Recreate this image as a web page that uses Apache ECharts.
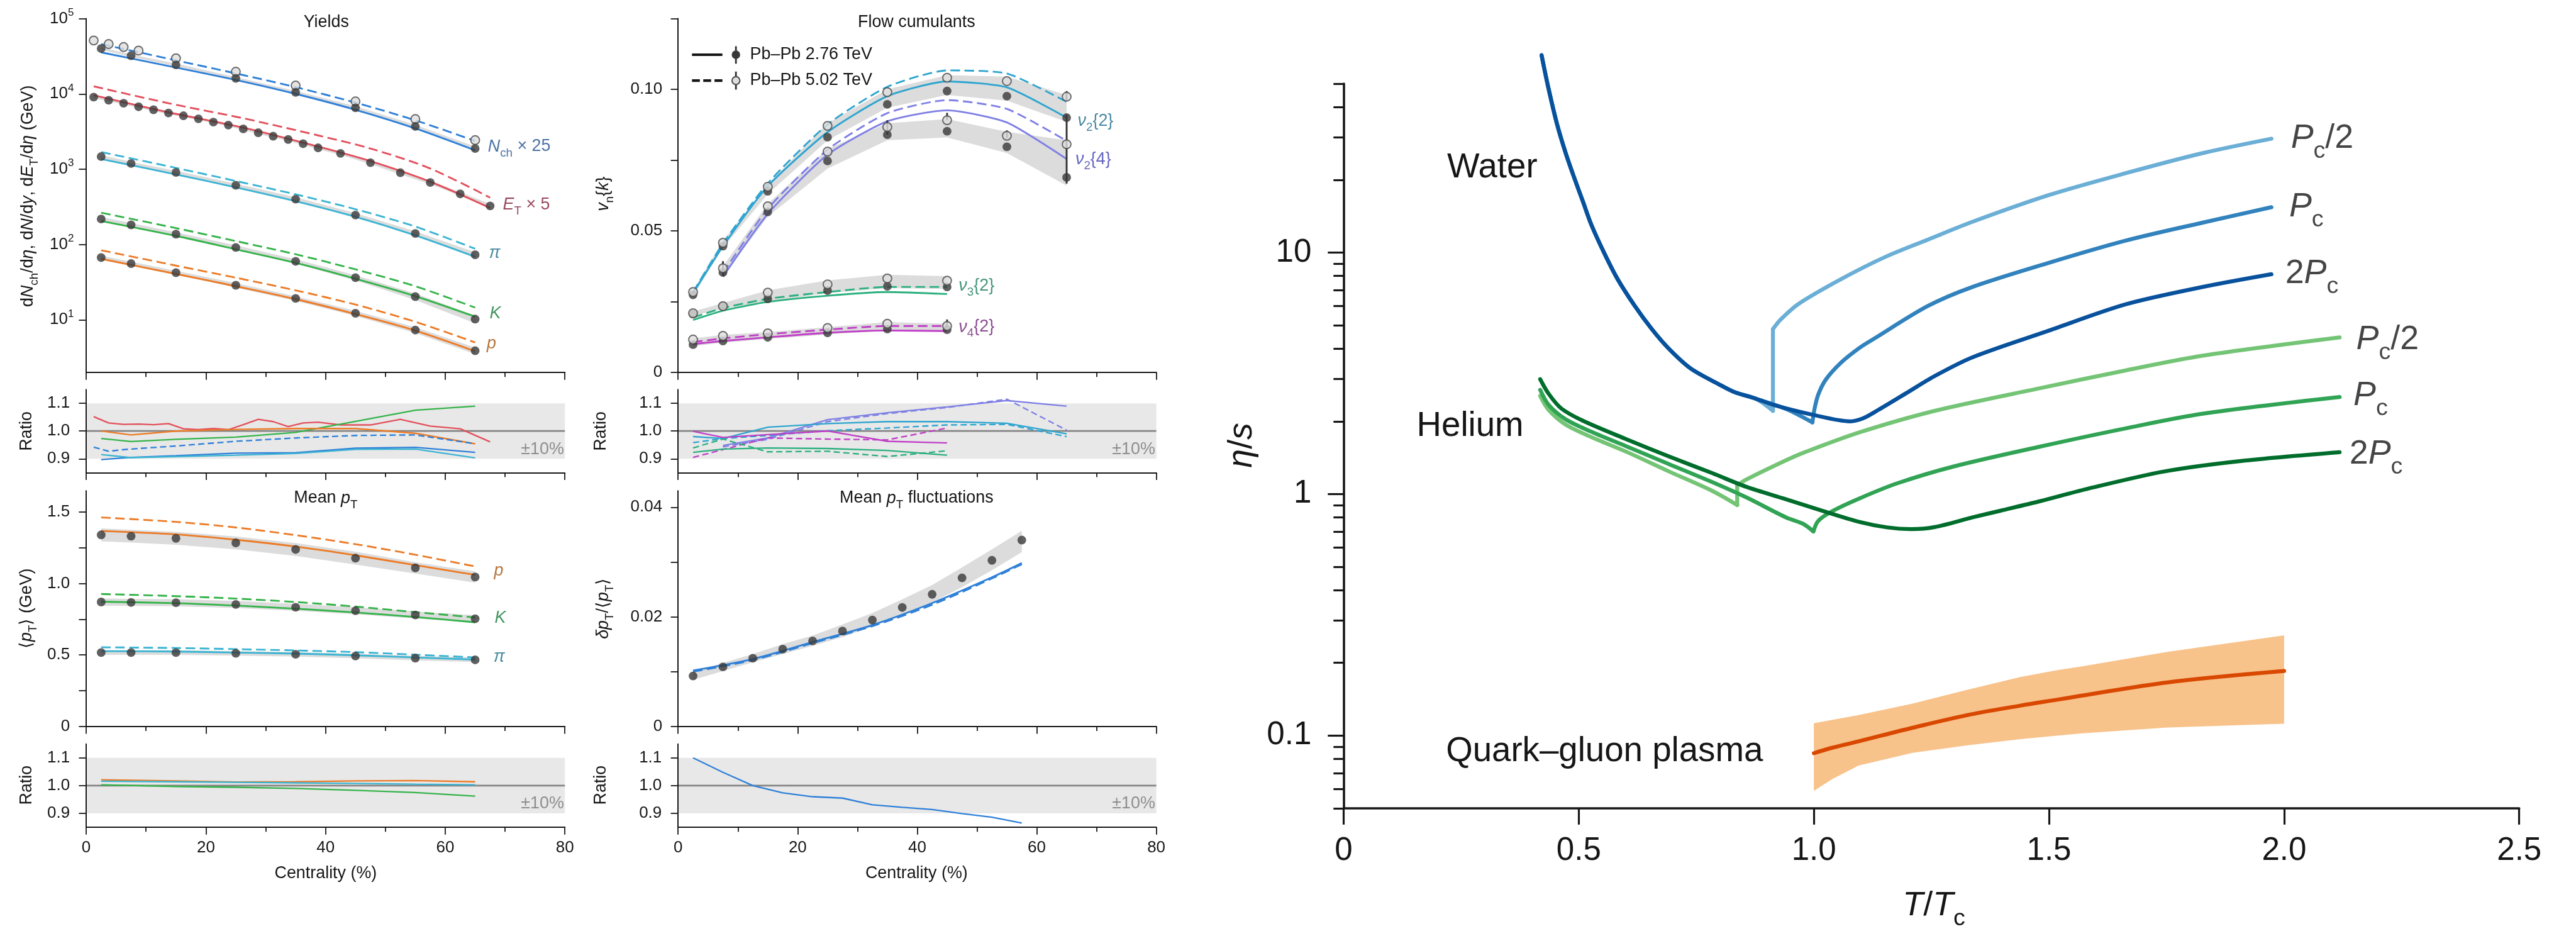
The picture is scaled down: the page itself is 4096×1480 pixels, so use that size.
<!DOCTYPE html>
<html>
<head>
<meta charset="utf-8">
<script src="https://cdn.jsdelivr.net/npm/echarts@6/dist/echarts.min.js"></script>
<style>
html, body { margin: 0; padding: 0; background: #ffffff; }
#chart { width: 4096px; height: 1480px; }
</style>
</head>
<body>
<div id="chart"></div>
<script>
// ---------------- Yields vs centrality ----------------
const centBins  = [2.5, 7.5, 15, 25, 35, 45, 55, 65];
const centModel = [2.5, 15, 25, 35, 45, 55, 65];

const nchData276  = [40000, 32200, 24300, 16100, 10500, 6540, 3700, 1880];
const nchCent502  = [1.25, 3.75, 6.25, 8.75, 15, 25, 35, 45, 55, 65];
const nchData502  = [51200, 45900, 41900, 37600, 29700, 19700, 12900, 7940, 4630, 2430];
const nchModel276 = [35600, 22400, 15300, 10000, 6150, 3480, 1780];
const nchModel502 = [45900, 27900, 18700, 12300, 7650, 4460, 2370];
const nchErr      = [0.04, 0.04, 0.04, 0.04, 0.045, 0.05, 0.05, 0.06];

const etCent = [1.25, 3.75, 6.25, 8.75, 11.25, 13.75, 16.25, 18.75, 21.25, 23.75, 26.25,
                28.75, 31.25, 33.75, 36.25, 38.75, 42.5, 47.5, 52.5, 57.5, 62.5, 67.5];
const etData = [9060, 8240, 7520, 6750, 6150, 5570, 5120, 4670, 4220, 3850, 3430,
                3050, 2740, 2480, 2180, 1920, 1620, 1220, 898, 665, 470, 325];
const etErr  = [0.035, 0.035, 0.035, 0.035, 0.035, 0.035, 0.035, 0.035, 0.035, 0.035, 0.035,
                0.04, 0.04, 0.04, 0.04, 0.04, 0.045, 0.045, 0.05, 0.05, 0.055, 0.06];
const etModelCent = [1.25, 13.75, 26.25, 38.75, 47.5, 57.5, 67.5];
const etModel276  = [9620, 5700, 3570, 2000, 1280, 681, 305];
const etModel502  = [12600, 7520, 4740, 2810, 1880, 1020, 419];

const piData     = [1470, 1190, 905, 611, 400, 246, 140, 73];
const piModel276 = [1360, 851, 574, 376, 233, 132, 68.5];
const piModel502 = [1690, 1040, 697, 463, 294, 173, 87.7];
const piErr      = [0.05, 0.05, 0.05, 0.05, 0.06, 0.06, 0.07, 0.08];

const kData     = [218, 182, 137, 91.2, 59.7, 36.2, 20.3, 10.2];
const kModel276 = [205, 130, 86.3, 57, 35.1, 20.6, 11.0];
const kModel502 = [264, 165, 111, 74.1, 46.7, 27.9, 14.5];
const kErr      = [0.06, 0.06, 0.06, 0.07, 0.07, 0.08, 0.10, 0.12];

const prData     = [67, 55.7, 42.2, 28.7, 19.2, 12.2, 7.3, 3.88];
const prModel276 = [64.4, 40.6, 27.9, 18.8, 11.9, 7.18, 3.82];
const prModel502 = [83.8, 52.4, 36.2, 24.6, 15.9, 9.4, 5.0];
const prErr      = [0.06, 0.06, 0.06, 0.07, 0.07, 0.08, 0.09, 0.10];

// model / data ratios for the yields
const ratioEt     = [1.052, 1.029, 1.024, 1.025, 1.023, 1.027, 1.008, 1.005, 1.009, 1.005, 1.023,
                     1.042, 1.034, 1.016, 1.029, 1.032, 1.022, 1.022, 1.042, 1.018, 1.008, 0.961];
const ratioK      = [0.973, 0.962, 0.970, 0.978, 0.995, 1.035, 1.075, 1.090];
const ratioPr     = [1.000, 0.986, 1.000, 1.006, 1.009, 1.009, 0.992, 0.954];
const ratioNch502 = [0.942, 0.927, 0.933, 0.937, 0.946, 0.963, 0.975, 0.984, 0.986, 0.954];
const ratioNch276 = [0.897, 0.905, 0.911, 0.920, 0.922, 0.938, 0.941, 0.923];
const ratioPi     = [0.915, 0.904, 0.908, 0.913, 0.919, 0.934, 0.935, 0.903];

// ---------------- Mean pT ----------------
const mptPrData     = [1.341, 1.332, 1.317, 1.285, 1.239, 1.178, 1.110, 1.046];
const mptPrModel276 = [1.368, 1.344, 1.307, 1.259, 1.198, 1.129, 1.061];
const mptPrModel502 = [1.463, 1.432, 1.393, 1.339, 1.276, 1.202, 1.120];
const mptPrErr      = [0.045, 0.045, 0.045, 0.045, 0.045, 0.045, 0.04, 0.04];
const mptKData      = [0.871, 0.868, 0.866, 0.854, 0.834, 0.810, 0.780, 0.754];
const mptKModel276  = [0.873, 0.863, 0.846, 0.824, 0.798, 0.766, 0.729];
const mptKModel502  = [0.927, 0.912, 0.895, 0.871, 0.839, 0.800, 0.763];
const mptKErr       = [0.025, 0.025, 0.025, 0.025, 0.025, 0.025, 0.025, 0.025];
const mptPiData     = [0.517, 0.517, 0.517, 0.512, 0.505, 0.493, 0.478, 0.466];
const mptPiModel276 = [0.527, 0.524, 0.517, 0.510, 0.498, 0.483, 0.468];
const mptPiModel502 = [0.554, 0.549, 0.541, 0.532, 0.520, 0.502, 0.483];
const mptPiErr      = [0.016, 0.016, 0.016, 0.016, 0.016, 0.016, 0.016, 0.016];

const mptRatioPr = [1.021, 1.017, 1.013, 1.014, 1.017, 1.018, 1.014];
const mptRatioPi = [1.016, 1.014, 1.012, 1.010, 1.008, 1.005, 1.003];
const mptRatioK  = [1.003, 0.997, 0.994, 0.990, 0.983, 0.975, 0.962];

// ---------------- Flow cumulants ----------------
const flowCent     = [2.5, 7.5, 15, 25, 35, 45, 55, 65];
const v22Data276   = [0.0274, 0.0446, 0.0640, 0.0831, 0.0947, 0.0994, 0.0976, 0.0900];
const v22Data502   = [0.0284, 0.0458, 0.0656, 0.0871, 0.0990, 0.1041, 0.1029, 0.0974];
const v22Model276  = [0.0280, 0.0446, 0.0658, 0.0849, 0.0976, 0.1028, 0.1007, 0.0900];
const v22Model502  = [0.0284, 0.0455, 0.0668, 0.0876, 0.1009, 0.1067, 0.1056, 0.0956];
const v22BandLow   = [0.0270, 0.0440, 0.0630, 0.0820, 0.0935, 0.0980, 0.0960, 0.0885];
const v22BandHigh  = [0.0290, 0.0465, 0.0665, 0.0880, 0.1000, 0.1050, 0.1045, 0.0980];

const v24Cent      = [7.5, 15, 25, 35, 45, 55, 65];
const v24Data276   = [0.0353, 0.0567, 0.0747, 0.0840, 0.0852, 0.0797, 0.0689];
const v24Data502   = [0.0368, 0.0587, 0.0780, 0.0867, 0.0891, 0.0836, 0.0806];
const v24Model276  = [0.0338, 0.0560, 0.0769, 0.0887, 0.0926, 0.0883, 0.0754];
const v24Model502  = [0.0351, 0.0578, 0.0787, 0.0916, 0.0962, 0.0931, 0.0818];
const v24BandLow   = [0.0340, 0.0550, 0.0720, 0.0820, 0.0830, 0.0775, 0.0660];
const v24BandHigh  = [0.0375, 0.0595, 0.0790, 0.0880, 0.0895, 0.0850, 0.0820];

const vnCent       = [2.5, 7.5, 15, 25, 35, 45];
const v32Data276   = [0.0206, 0.0233, 0.0260, 0.0289, 0.0304, 0.0302];
const v32Data502   = [0.0209, 0.0234, 0.0282, 0.0311, 0.0332, 0.0324];
const v32Model276  = [0.0185, 0.0218, 0.0249, 0.0271, 0.0284, 0.0277];
const v32Model502  = [0.0194, 0.0227, 0.0260, 0.0284, 0.0302, 0.0302];
const v32BandLow   = [0.0200, 0.0225, 0.0250, 0.0280, 0.0298, 0.0295];
const v32BandHigh  = [0.0215, 0.0245, 0.0290, 0.0325, 0.0345, 0.0340];
const v42Data276   = [0.0098, 0.0111, 0.0124, 0.0140, 0.0153, 0.0151];
const v42Data502   = [0.0116, 0.0129, 0.0138, 0.0157, 0.0172, 0.0164];
const v42Model276  = [0.0100, 0.0111, 0.0124, 0.0140, 0.0148, 0.0146];
const v42Model502  = [0.0107, 0.0120, 0.0135, 0.0151, 0.0164, 0.0164];
const v42BandLow   = [0.0093, 0.0105, 0.0118, 0.0134, 0.0147, 0.0145];
const v42BandHigh  = [0.0120, 0.0133, 0.0142, 0.0160, 0.0178, 0.0172];

const flowErrCent = [7.5, 35, 45, 55, 65, 65, 45];
const flowErrLow  = [0.0342, 0.0840, 0.0891, 0.0828, 0.0667, 0.0960, 0.0160];
const flowErrHigh = [0.0393, 0.0891, 0.0917, 0.0855, 0.0911, 0.0994, 0.0187];

const rV24m276 = [0.948, 0.975, 1.041, 1.066, 1.087, 1.110, 1.090];
const rV24m502 = [0.943, 0.970, 1.034, 1.063, 1.085, 1.115, 1.003];
const rV22m276 = [0.980, 0.973, 1.014, 1.027, 1.034, 1.034, 1.028, 0.990];
const rV22m502 = [0.958, 0.973, 0.984, 1.001, 1.011, 1.022, 1.024, 0.980];
const rV42m276 = [0.999, 0.977, 0.987, 1.000, 0.963, 0.957];
const rV42m502 = [0.905, 0.933, 0.975, 0.971, 0.968, 1.011];
const rV32m276 = [0.923, 0.935, 0.939, 0.937, 0.930, 0.913];
const rV32m502 = [0.939, 0.971, 0.925, 0.927, 0.908, 0.929];

// ---------------- Mean pT fluctuations ----------------
const flucCent      = [2.5, 7.5, 12.5, 17.5, 22.5, 27.5, 32.5, 37.5, 42.5, 47.5, 52.5, 57.5];
const flucData      = [0.0092, 0.01086, 0.01244, 0.0141, 0.0156, 0.0174, 0.0194, 0.0217, 0.0241, 0.0271, 0.0303, 0.0340];
const flucBandLow   = [0.0085, 0.0101, 0.0117, 0.0132, 0.0147, 0.0163, 0.0182, 0.0203, 0.0226, 0.0254, 0.0285, 0.0318];
const flucBandHigh  = [0.0099, 0.0116, 0.0132, 0.0150, 0.0166, 0.0186, 0.0207, 0.0232, 0.0258, 0.0290, 0.0323, 0.0357];
const flucModelCent = [2.5, 12.5, 22.5, 32.5, 42.5, 52.5, 57.5];
const flucModel276  = [0.0102, 0.0123, 0.0154, 0.0185, 0.0225, 0.0272, 0.0298];
const flucModel502  = [0.0100, 0.0121, 0.0152, 0.0183, 0.0222, 0.0270, 0.0296];
const flucRatio     = [1.10, 1.048, 1.0, 0.974, 0.96, 0.955, 0.931, 0.922, 0.914, 0.899, 0.886, 0.865];

// ---------------- eta/s versus T/Tc ----------------
const waterBranchT = [0.421, 0.4354, 0.4537, 0.472, 0.4904, 0.5087, 0.527, 0.5546, 0.582, 0.6187,
                      0.6554, 0.692, 0.738, 0.7975, 0.8296, 0.877];
const waterBranchV = [65.6, 48.1, 34.1, 25.9, 20.4, 16.3, 13.0, 9.91, 7.80, 6.03,
                      4.82, 3.99, 3.31, 2.85, 2.65, 2.48];
const waterHalfT = [0.913, 0.913, 0.929, 0.967, 1.059, 1.151, 1.242, 1.337, 1.5, 1.663, 1.827, 1.973];
const waterHalfV = [2.21, 4.82, 5.27, 6.12, 7.78, 9.57, 11.3, 13.4, 17.3, 21.3, 25.8, 29.6];
const waterCritT = [0.941, 0.997, 1.001, 1.009, 1.025, 1.057, 1.097, 1.129, 1.242, 1.337, 1.5, 1.663, 1.827, 1.973];
const waterCritV = [2.25, 1.98, 2.23, 2.57, 2.97, 3.49, 4.03, 4.41, 6.0, 7.2, 9.07, 11.2, 13.3, 15.4];
const waterDblT  = [0.917, 0.997, 1.077, 1.105, 1.137, 1.197, 1.257, 1.337, 1.5, 1.663, 1.827, 1.973];
const waterDblV  = [2.33, 2.13, 2.0, 2.06, 2.23, 2.62, 3.08, 3.68, 4.75, 6.1, 7.2, 8.13];

const heHalfT = [0.418, 0.436, 0.472, 0.527, 0.600, 0.692, 0.784, 0.837, 0.837, 0.857, 0.941, 0.977,
                 1.097, 1.257, 1.48, 1.663, 1.827, 2.118];
const heHalfV = [2.55, 2.23, 1.94, 1.72, 1.50, 1.24, 1.03, 0.90, 1.087, 1.15, 1.38, 1.48,
                 1.80, 2.21, 2.74, 3.25, 3.74, 4.45];
const heCritT = [0.418, 0.436, 0.472, 0.527, 0.600, 0.692, 0.784, 0.857, 0.941, 0.977, 0.999, 1.009,
                 1.037, 1.097, 1.177, 1.297, 1.48, 1.663, 1.827, 2.118];
const heCritV = [2.70, 2.34, 2.04, 1.81, 1.58, 1.33, 1.12, 0.967, 0.80, 0.753, 0.70, 0.773,
                 0.845, 0.959, 1.107, 1.30, 1.57, 1.87, 2.15, 2.52];
const heDblT  = [0.418, 0.436, 0.463, 0.509, 0.600, 0.692, 0.784, 0.857, 0.941, 1.017, 1.097, 1.157,
                 1.207, 1.257, 1.337, 1.397, 1.48, 1.581, 1.745, 1.908, 2.118];
const heDblV  = [2.99, 2.60, 2.26, 2.01, 1.69, 1.43, 1.22, 1.07, 0.951, 0.853, 0.766, 0.727,
                 0.716, 0.730, 0.80, 0.853, 0.933, 1.05, 1.24, 1.37, 1.49];

const qgpT     = [1.0, 1.038, 1.095, 1.21, 1.325, 1.439, 1.52, 1.567, 1.752, 2.0];
const qgpUpper = [0.1124, 0.116, 0.1216, 0.1356, 0.1545, 0.1746, 0.187, 0.193, 0.222, 0.26];
const qgpLower = [0.059, 0.0658, 0.0751, 0.0848, 0.091, 0.0966, 0.100, 0.102, 0.108, 0.112];
const qgpMid   = [0.0845, 0.0889, 0.0946, 0.1077, 0.1214, 0.133, 0.141, 0.146, 0.166, 0.185];

// tick values
const yieldTicks = [10, 100, 1000, 10000, 100000];
const ratioTicks = [0.9, 1.0, 1.1];
const ratioBand  = [0.9, 1.1];
const flowTicks  = [0, 0.025, 0.05, 0.075, 0.1, 0.125];
const flowLabels = [0, 0.05, 0.1];
const mptTicks   = [0, 0.25, 0.5, 0.75, 1.0, 1.25, 1.5];
const mptLabels  = [0, 0.5, 1.0, 1.5];
const flucTicks  = [0, 0.01, 0.02, 0.03, 0.04];
const flucLabels = [0, 0.02, 0.04];
const etaMajor   = [0.1, 1, 10];
const etaMinor   = [0.05, 0.06, 0.07, 0.08, 0.09, 0.2, 0.3, 0.4, 0.5, 0.6, 0.7, 0.8, 0.9,
                    2, 3, 4, 5, 6, 7, 8, 9, 20, 30, 40, 50];

// ---------------- drawing ----------------
const S = 0.896;                 // overall scale of the figure
const R = v => v * S;
const FONT = "'Liberation Sans', Arial, Helvetica, sans-serif";
const INK = '#161616';
const zip = (xs, ys) => xs.map((x, i) => [x, ys[i]]);
const scaleBy = (ys, es, sign) => ys.map((y, i) => y * (1 + sign * es[i]));
const shiftBy = (ys, es, sign) => ys.map((y, i) => y + sign * es[i]);

const COL = {
  nch: '#2f80d8', et: '#e2505c', pi: '#3cb4d3', k: '#35b34a', pr: '#ec7b27',
  v22: '#2ea5d0', v24: '#7f80e4', v32: '#2cb07f', v42: '#c03fc7',
  wHalf: '#6baed6', wCrit: '#3182bd', wDbl: '#08519c',
  hHalf: '#74c476', hCrit: '#31a354', hDbl: '#006d2c',
  qgpFill: '#f8c28b', qgpLine: '#d94801', band: '#dcdcdc'
};

// grid boxes (figure pixels before scaling)
const BOX = [
  {left: 153,    top: 33,    width: 849.5,  height: 627.7},   // 0 yields
  {left: 153,    top: 691,   width: 849.5,  height: 147.5},   // 1 yields ratio
  {left: 153,    top: 870.7, width: 849.5,  height: 418.1},   // 2 mean pT
  {left: 153,    top: 1320,  width: 849.5,  height: 147.7},   // 3 mean pT ratio
  {left: 1203.4, top: 33,    width: 848.6,  height: 627.7},   // 4 flow
  {left: 1203.4, top: 691,   width: 848.6,  height: 147.5},   // 5 flow ratio
  {left: 1203.4, top: 870.7, width: 848.6,  height: 418.1},   // 6 fluctuations
  {left: 1203.4, top: 1320,  width: 848.6,  height: 147.7},   // 7 fluctuation ratio
  {left: 2384.4, top: 148.5, width: 2086.3, height: 1285.5}   // 8 eta/s
];

function richFor(F, color) {
  return {
    i: {fontSize: F, fontStyle: 'italic', lineHeight: 1.47 * F, color: color, fontFamily: FONT},
    s: {fontSize: 0.7 * F, lineHeight: 0.7 * F, verticalAlign: 'bottom', color: color, fontFamily: FONT}
  };
}

function centralityAxis(gi, labels) {
  return {
    type: 'value', gridIndex: gi, min: 0, max: 80, interval: 20, z: 10,
    axisLine: {show: true, onZero: false, lineStyle: {color: INK, width: R(2.2)}},
    axisTick: {show: true, length: R(13), lineStyle: {color: INK, width: R(2)}},
    minorTick: {show: true, splitNumber: 2, length: R(8), lineStyle: {color: INK, width: R(2)}},
    axisLabel: {show: labels, fontSize: R(29), color: INK, fontFamily: FONT, margin: R(22)},
    splitLine: {show: false}, minorSplitLine: {show: false}
  };
}

function valueAxis(gi, c) {
  return {
    type: c.log ? 'log' : 'value', logBase: 10, gridIndex: gi, min: c.min, max: c.max, z: 10,
    axisLine: {show: true, onZero: false, lineStyle: {color: INK, width: R(2.2)}},
    axisTick: {show: true, customValues: c.ticks, length: R(13), lineStyle: {color: INK, width: R(2)}},
    axisLabel: {show: true, customValues: c.labels, formatter: c.fmt, margin: R(c.margin),
                fontSize: R(29), color: INK, fontFamily: FONT, rich: c.rich},
    splitLine: {show: false}, minorTick: {show: false}
  };
}

function modelLine(gi, xs, ys, color, dashed, width, smooth, round) {
  return {
    type: 'line', xAxisIndex: gi, yAxisIndex: gi, data: zip(xs, ys), symbol: 'none',
    silent: true, z: 3, smooth: smooth === undefined ? 0.3 : smooth, clip: false,
    lineStyle: {color: color, width: width || R(3.2), type: dashed ? [R(17), R(8)] : 'solid',
                cap: round ? 'round' : 'butt', join: 'round'}
  };
}

// a curve with sharp corners: smooth between corners, straight where only two points remain
const W_R = R(7);
function cornered(gi, xs, ys, corners, color) {
  const cuts = [0].concat(corners, [xs.length - 1]);
  const out = [];
  for (let k = 0; k < cuts.length - 1; k++) {
    const a = cuts[k], b = cuts[k + 1];
    if (b <= a) continue;
    out.push(modelLine(gi, xs.slice(a, b + 1), ys.slice(a, b + 1), color, false, W_R,
                       b - a > 1 ? 0.3 : false, true));
  }
  return out;
}

function ratioLine(gi, xs, ys, color, dashed) {
  return {
    type: 'line', xAxisIndex: gi, yAxisIndex: gi, data: zip(xs, ys), symbol: 'none',
    silent: true, z: 3, smooth: false,
    lineStyle: {color: color, width: R(2.6), type: dashed ? [R(11), R(6)] : 'solid'}
  };
}

function dots(gi, xs, ys, open) {
  return {
    type: 'scatter', xAxisIndex: gi, yAxisIndex: gi, data: zip(xs, ys), silent: true, z: 6,
    symbol: 'circle', symbolSize: R(15.5),
    itemStyle: open ? {color: '#dedede', borderColor: '#4a4a4a', borderWidth: R(2.2)}
                    : {color: '#383838'}
  };
}

function band(gi, xs, lo, hi, fill) {
  return {
    type: 'custom', xAxisIndex: gi, yAxisIndex: gi, z: 1, silent: true,
    data: [[xs[0], lo[0]]],
    renderItem: (params, api) => {
      const pts = xs.map((x, i) => api.coord([x, hi[i]]));
      for (let i = xs.length - 1; i >= 0; i--) pts.push(api.coord([xs[i], lo[i]]));
      return {type: 'polygon', shape: {points: pts}, style: {fill: fill}};
    }
  };
}

function errorBars(gi, xs, lo, hi) {
  return {
    type: 'custom', xAxisIndex: gi, yAxisIndex: gi, z: 5, silent: true,
    data: xs.map((x, i) => [x, lo[i], hi[i]]),
    encode: {x: 0, y: [1, 2]},
    renderItem: (params, api) => {
      const a = api.coord([api.value(0), api.value(1)]);
      const b = api.coord([api.value(0), api.value(2)]);
      return {type: 'line', shape: {x1: a[0], y1: a[1], x2: b[0], y2: b[1]},
              style: {stroke: '#333333', lineWidth: R(3.2)}};
    }
  };
}

function ratioBackground(gi) {
  return {
    type: 'custom', xAxisIndex: gi, yAxisIndex: gi, z: 1, silent: true,
    data: [[0, 1]],
    renderItem: (params, api) => {
      const a = api.coord([0, ratioBand[1]]), b = api.coord([80, ratioBand[0]]);
      const c = api.coord([0, 1]), d = api.coord([80, 1]);
      return {type: 'group', children: [
        {type: 'rect', shape: {x: a[0], y: a[1], width: b[0] - a[0], height: b[1] - a[1]},
         style: {fill: '#e8e8e8'}},
        {type: 'line', shape: {x1: c[0], y1: c[1], x2: d[0], y2: d[1]},
         style: {stroke: '#858585', lineWidth: R(3)}}
      ]};
    }
  };
}

// text placed next to the last point of a curve
function tag(gi, xs, ys, text, color, F, dist, dy) {
  const n = xs.length - 1;
  return {
    type: 'scatter', xAxisIndex: gi, yAxisIndex: gi, z: 7, silent: true, clip: false,
    data: [[xs[n], ys[n]]], symbolSize: 1, itemStyle: {color: 'rgba(0,0,0,0)'},
    label: {show: true, position: 'right', distance: R(dist), offset: [0, R(dy)],
            formatter: text, color: color, fontSize: F, fontFamily: FONT,
            lineHeight: 1.47 * F, rich: richFor(F, color)}
  };
}

const F_L = R(30);   // left-hand panels text size
const F_R = R(60);   // right-hand panel text size

const xAxes = [
  centralityAxis(0, false), centralityAxis(1, false), centralityAxis(2, false), centralityAxis(3, true),
  centralityAxis(4, false), centralityAxis(5, false), centralityAxis(6, false), centralityAxis(7, true),
  {
    type: 'value', gridIndex: 8, min: 0, max: 2.5, interval: 0.5, z: 10,
    axisLine: {show: true, onZero: false, lineStyle: {color: INK, width: R(4)}},
    axisTick: {show: true, length: R(29), lineStyle: {color: INK, width: R(3.5)}},
    axisLabel: {show: true, fontSize: R(57), color: INK, fontFamily: FONT, margin: R(48),
                formatter: v => v === 0 ? '0' : v.toFixed(1)},
    splitLine: {show: false}
  }
];

const ratioAxisCfg = {min: 0.85, max: 1.15, ticks: ratioTicks, labels: ratioTicks,
                      fmt: v => v.toFixed(1), margin: 29};
const yAxes = [
  valueAxis(0, {log: true, min: 2, max: 100000, ticks: yieldTicks, labels: yieldTicks, margin: 22,
                fmt: v => '{b|10}{p|' + Math.round(Math.log10(v)) + '}',
                rich: {b: {fontSize: R(29), lineHeight: R(40), fontFamily: FONT, color: INK},
                       p: {fontSize: R(19), lineHeight: R(19), verticalAlign: 'top', fontFamily: FONT, color: INK}}}),
  valueAxis(1, ratioAxisCfg),
  valueAxis(2, {min: 0, max: 1.65, ticks: mptTicks, labels: mptLabels, margin: 29,
                fmt: v => v === 0 ? '0' : v.toFixed(1)}),
  valueAxis(3, ratioAxisCfg),
  valueAxis(4, {min: 0, max: 0.125, ticks: flowTicks, labels: flowLabels, margin: 28,
                fmt: v => v === 0 ? '0' : v.toFixed(2)}),
  valueAxis(5, ratioAxisCfg),
  valueAxis(6, {min: 0, max: 0.043, ticks: flucTicks, labels: flucLabels, margin: 28,
                fmt: v => v === 0 ? '0' : v.toFixed(2)}),
  valueAxis(7, ratioAxisCfg),
  {
    type: 'log', logBase: 10, gridIndex: 8, min: 0.05, max: 50, z: 10,
    axisLine: {show: true, onZero: false, lineStyle: {color: INK, width: R(4)}},
    axisTick: {show: true, customValues: etaMajor, length: R(28), lineStyle: {color: INK, width: R(3.5)}},
    axisLabel: {show: true, customValues: etaMajor, fontSize: R(57), color: INK, fontFamily: FONT,
                margin: R(57), formatter: v => String(v)},
    splitLine: {show: false}
  },
  {
    type: 'log', logBase: 10, gridIndex: 8, min: 0.05, max: 50, position: 'left', offset: 0, z: 10,
    axisLine: {show: false},
    axisTick: {show: true, customValues: etaMinor, length: R(18), lineStyle: {color: INK, width: R(3.5)}},
    axisLabel: {show: false}, splitLine: {show: false}
  }
];

const series = [];
// --- yields ---
series.push(
  band(0, centBins, scaleBy(nchData276, nchErr, -1), scaleBy(nchData276, nchErr, 1), COL.band),
  band(0, etCent, scaleBy(etData, etErr, -1), scaleBy(etData, etErr, 1), COL.band),
  band(0, centBins, scaleBy(piData, piErr, -1), scaleBy(piData, piErr, 1), COL.band),
  band(0, centBins, scaleBy(kData, kErr, -1), scaleBy(kData, kErr, 1), COL.band),
  band(0, centBins, scaleBy(prData, prErr, -1), scaleBy(prData, prErr, 1), COL.band),
  modelLine(0, centModel, nchModel276, COL.nch, false),
  modelLine(0, centModel, nchModel502, COL.nch, true),
  modelLine(0, etModelCent, etModel276, COL.et, false),
  modelLine(0, etModelCent, etModel502, COL.et, true),
  modelLine(0, centModel, piModel276, COL.pi, false),
  modelLine(0, centModel, piModel502, COL.pi, true),
  modelLine(0, centModel, kModel276, COL.k, false),
  modelLine(0, centModel, kModel502, COL.k, true),
  modelLine(0, centModel, prModel276, COL.pr, false),
  modelLine(0, centModel, prModel502, COL.pr, true),
  dots(0, nchCent502, nchData502, true),
  dots(0, centBins, nchData276, false),
  dots(0, etCent, etData, false),
  dots(0, centBins, piData, false),
  dots(0, centBins, kData, false),
  dots(0, centBins, prData, false),
  tag(0, centModel, nchModel276, '{i|N}{s|ch} × 25', '#1f4f8c', F_L, 22, -6.6),
  tag(0, etModelCent, etModel276, '{i|E}{s|T} × 5', '#7d1c33', F_L, 22, -6),
  tag(0, centModel, piModel276, '{i|π}', '#1b6b88', F_L, 24, -6),
  tag(0, centModel, kModel276, '{i|K}', '#177c3b', F_L, 25, -5),
  tag(0, centModel, prModel276, '{i|p}', '#a3540f', F_L, 20, -13)
);
// --- yields ratio ---
series.push(
  ratioBackground(1),
  ratioLine(1, etCent, ratioEt, COL.et, false),
  ratioLine(1, centBins, ratioK, COL.k, false),
  ratioLine(1, centBins, ratioPr, COL.pr, false),
  ratioLine(1, nchCent502, ratioNch502, COL.nch, true),
  ratioLine(1, centBins, ratioNch276, COL.nch, false),
  ratioLine(1, centBins, ratioPi, COL.pi, false)
);
// --- mean pT ---
series.push(
  band(2, centBins, shiftBy(mptPrData, mptPrErr, -1), shiftBy(mptPrData, mptPrErr, 1), COL.band),
  band(2, centBins, shiftBy(mptKData, mptKErr, -1), shiftBy(mptKData, mptKErr, 1), COL.band),
  band(2, centBins, shiftBy(mptPiData, mptPiErr, -1), shiftBy(mptPiData, mptPiErr, 1), COL.band),
  modelLine(2, centModel, mptPrModel276, COL.pr, false),
  modelLine(2, centModel, mptPrModel502, COL.pr, true),
  modelLine(2, centModel, mptKModel276, COL.k, false),
  modelLine(2, centModel, mptKModel502, COL.k, true),
  modelLine(2, centModel, mptPiModel276, COL.pi, false),
  modelLine(2, centModel, mptPiModel502, COL.pi, true),
  dots(2, centBins, mptPrData, false),
  dots(2, centBins, mptKData, false),
  dots(2, centBins, mptPiData, false),
  tag(2, centModel, mptPrModel276, '{i|p}', '#a3540f', F_L, 33, -7),
  tag(2, centModel, mptKModel276, '{i|K}', '#177c3b', F_L, 34, -7),
  tag(2, centModel, mptPiModel276, '{i|π}', '#1b6b88', F_L, 32, -4)
);
// --- mean pT ratio ---
series.push(
  ratioBackground(3),
  ratioLine(3, centModel, mptRatioPr, COL.pr, false),
  ratioLine(3, centModel, mptRatioPi, COL.pi, false),
  ratioLine(3, centModel, mptRatioK, COL.k, false)
);
// --- flow ---
series.push(
  band(4, flowCent, v22BandLow, v22BandHigh, COL.band),
  band(4, v24Cent, v24BandLow, v24BandHigh, COL.band),
  band(4, vnCent, v32BandLow, v32BandHigh, COL.band),
  band(4, vnCent, v42BandLow, v42BandHigh, COL.band),
  modelLine(4, flowCent, v22Model276, COL.v22, false, null, 0.2),
  modelLine(4, flowCent, v22Model502, COL.v22, true, null, 0.2),
  modelLine(4, v24Cent, v24Model276, COL.v24, false, null, 0.2),
  modelLine(4, v24Cent, v24Model502, COL.v24, true, null, 0.2),
  modelLine(4, vnCent, v32Model276, COL.v32, false, null, 0.2),
  modelLine(4, vnCent, v32Model502, COL.v32, true, null, 0.2),
  modelLine(4, vnCent, v42Model276, COL.v42, false, null, 0.2),
  modelLine(4, vnCent, v42Model502, COL.v42, true, null, 0.2),
  errorBars(4, flowErrCent, flowErrLow, flowErrHigh),
  dots(4, flowCent, v22Data276, false),
  dots(4, v24Cent, v24Data276, false),
  dots(4, vnCent, v32Data276, false),
  dots(4, vnCent, v42Data276, false),
  dots(4, flowCent, v22Data502, true),
  dots(4, v24Cent, v24Data502, true),
  dots(4, vnCent, v32Data502, true),
  dots(4, vnCent, v42Data502, true),
  tag(4, flowCent, v22Model276, '{i|ν}{s|2}{2}', '#1b6a8c', F_L, 19, 6),
  tag(4, v24Cent, v24Model276, '{i|ν}{s|2}{4}', '#3d3fb2', F_L, 15, 1),
  tag(4, vnCent, v32Model276, '{i|ν}{s|3}{2}', '#17795a', F_L, 20, -14),
  tag(4, vnCent, v42Model276, '{i|ν}{s|4}{2}', '#6a2174', F_L, 20, -7)
);
// --- flow ratio ---
series.push(
  ratioBackground(5),
  ratioLine(5, v24Cent, rV24m276, COL.v24, false),
  ratioLine(5, v24Cent, rV24m502, COL.v24, true),
  ratioLine(5, flowCent, rV22m276, COL.v22, false),
  ratioLine(5, flowCent, rV22m502, COL.v22, true),
  ratioLine(5, vnCent, rV42m276, COL.v42, false),
  ratioLine(5, vnCent, rV42m502, COL.v42, true),
  ratioLine(5, vnCent, rV32m276, COL.v32, false),
  ratioLine(5, vnCent, rV32m502, COL.v32, true)
);
// --- fluctuations ---
series.push(
  band(6, flucCent, flucBandLow, flucBandHigh, COL.band),
  modelLine(6, flucModelCent, flucModel502, COL.nch, true),
  modelLine(6, flucModelCent, flucModel276, COL.nch, false),
  dots(6, flucCent, flucData, false)
);
series.push(
  ratioBackground(7),
  ratioLine(7, flucCent, flucRatio, COL.nch, false)
);
// --- eta/s ---
const nB = waterBranchT.length;
series.push(
  band(8, qgpT, qgpLower, qgpUpper, COL.qgpFill),
  modelLine(8, qgpT, qgpMid, COL.qgpLine, false, W_R, 0.35, true),
  ...cornered(8, waterBranchT.concat(waterHalfT), waterBranchV.concat(waterHalfV), [nB, nB + 1], COL.wHalf),
  ...cornered(8, waterBranchT.concat(waterCritT), waterBranchV.concat(waterCritV), [nB + 1], COL.wCrit),
  ...cornered(8, waterBranchT.concat(waterDblT), waterBranchV.concat(waterDblV), [], COL.wDbl),
  ...cornered(8, heHalfT, heHalfV, [7, 8], COL.hHalf),
  ...cornered(8, heCritT, heCritV, [10], COL.hCrit),
  ...cornered(8, heDblT, heDblV, [], COL.hDbl),
  tag(8, waterHalfT, waterHalfV, '{i|P}{s|c}/2', INK, F_R, 34, 0),
  tag(8, waterCritT, waterCritV, '{i|P}{s|c}', INK, F_R, 31, 0),
  tag(8, waterDblT, waterDblV, '2{i|P}{s|c}', INK, F_R, 24, -1),
  tag(8, heHalfT, heHalfV, '{i|P}{s|c}/2', INK, F_R, 29, 4),
  tag(8, heCritT, heCritV, '{i|P}{s|c}', INK, F_R, 24, -2),
  tag(8, heDblT, heDblV, '2{i|P}{s|c}', INK, F_R, 17, 4)
);

// ---------------- free text: titles, axis names, legend ----------------
function gRich(F) {
  return {
    i: {fontSize: F, fontStyle: 'italic', lineHeight: 1.47 * F, fontFamily: FONT},
    s: {fontSize: 0.7 * F, lineHeight: 0.7 * F, verticalAlign: 'bottom', fontFamily: FONT}
  };
}
function text(x, y, str, F, opts) {
  opts = opts || {};
  return {
    type: 'text', x: R(x), y: R(y), rotation: opts.rot || 0, z: 20, silent: true,
    style: {
      text: str, fill: opts.color || INK, fontSize: F, fontFamily: FONT,
      fontStyle: opts.italic ? 'italic' : 'normal', lineHeight: 1.47 * F,
      align: opts.align || 'center', verticalAlign: 'middle',
      textAlign: opts.align || 'center', textVerticalAlign: 'middle',
      rich: gRich(F)
    }
  };
}
const UP = Math.PI / 2;
const graphics = [
  text(579, 40, 'Yields', F_L),
  text(1626.5, 40, 'Flow cumulants', F_L),
  text(578, 884, 'Mean {i|p}{s|T}', F_L),
  text(1626.5, 884, 'Mean {i|p}{s|T} fluctuations', F_L),
  text(578, 1550, 'Centrality (%)', F_L),
  text(1626.5, 1550, 'Centrality (%)', F_L),
  text(50, 348, 'd{i|N}{s|ch}/d{i|η}, d{i|N}/d{i|y}, d{i|E}{s|T}/d{i|η} (GeV)', F_L, {rot: UP}),
  text(47.5, 765, 'Ratio', F_L, {rot: UP}),
  text(47.5, 1079.5, '⟨{i|p}{s|T}⟩ (GeV)', F_L, {rot: UP}),
  text(47.5, 1393, 'Ratio', F_L, {rot: UP}),
  text(1071, 344, '{i|v}{s|n}{{i|k}}', F_L, {rot: UP}),
  text(1066.6, 765, 'Ratio', F_L, {rot: UP}),
  text(1071, 1079.5, '{i|δp}{s|T}/⟨{i|p}{s|T}⟩', F_L, {rot: UP}),
  text(1066.6, 1393, 'Ratio', F_L, {rot: UP}),
  text(1001, 797.7, '±10%', F_L, {align: 'right', color: '#8e8e8e'}),
  text(1001, 1426, '±10%', F_L, {align: 'right', color: '#8e8e8e'}),
  text(2050, 797.7, '±10%', F_L, {align: 'right', color: '#8e8e8e'}),
  text(2050, 1426, '±10%', F_L, {align: 'right', color: '#8e8e8e'}),
  // legend of the flow panel
  {type: 'line', z: 20, silent: true, shape: {x1: R(1228), y1: R(97), x2: R(1282), y2: R(97)},
   style: {stroke: INK, lineWidth: R(4.5)}},
  {type: 'line', z: 20, silent: true, shape: {x1: R(1228), y1: R(143), x2: R(1282), y2: R(143)},
   style: {stroke: INK, lineWidth: R(4.5), lineDash: [R(14), R(6)]}},
  {type: 'line', z: 20, silent: true, shape: {x1: R(1306), y1: R(82), x2: R(1306), y2: R(113)},
   style: {stroke: '#333', lineWidth: R(3.2)}},
  {type: 'circle', z: 21, silent: true, shape: {cx: R(1306), cy: R(97), r: R(7.5)},
   style: {fill: '#383838'}},
  {type: 'line', z: 20, silent: true, shape: {x1: R(1306), y1: R(127), x2: R(1306), y2: R(159)},
   style: {stroke: '#333', lineWidth: R(3.2)}},
  {type: 'circle', z: 21, silent: true, shape: {cx: R(1306), cy: R(143), r: R(7)},
   style: {fill: '#dedede', stroke: '#4a4a4a', lineWidth: R(2.2)}},
  text(1331, 97, 'Pb–Pb 2.76 TeV', F_L, {align: 'left'}),
  text(1331, 142, 'Pb–Pb 5.02 TeV', F_L, {align: 'left'}),
  // eta/s panel
  text(2568, 298, 'Water', R(61), {align: 'left'}),
  text(2514, 757, 'Helium', R(61), {align: 'left'}),
  text(2566, 1334, 'Quark–gluon plasma', R(61), {align: 'left'}),
  text(2204, 790, '{i|η}/{i|s}', F_R, {rot: UP}),
  text(3432, 1607, '{i|T}/{i|T}{s|c}', F_R)
];

const chart = echarts.init(document.getElementById('chart'), null, {renderer: 'canvas'});
chart.setOption({
  animation: false,
  backgroundColor: '#ffffff',
  textStyle: {fontFamily: FONT},
  grid: BOX.map(b => ({left: R(b.left), top: R(b.top), width: R(b.width), height: R(b.height),
                       containLabel: false, outerBoundsMode: 'none'})),
  xAxis: xAxes,
  yAxis: yAxes.map((a, i) => i === 9 ? a : Object.assign(a, {gridIndex: i})),
  series: series,
  graphic: graphics
});
</script>
</body>
</html>
